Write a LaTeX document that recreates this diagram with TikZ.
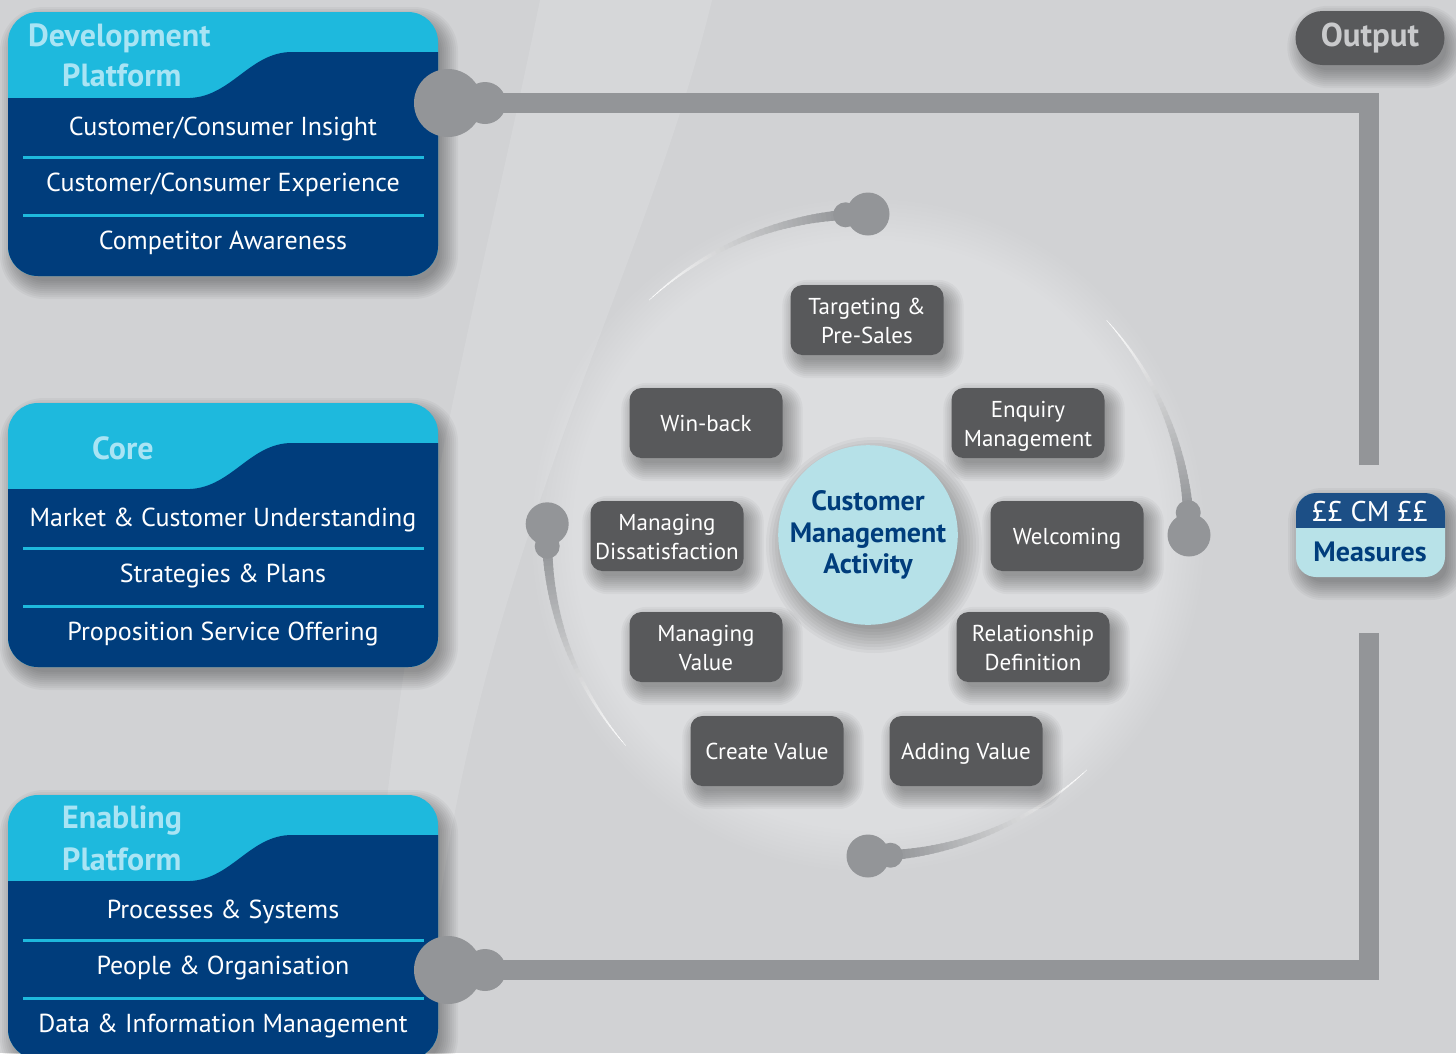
\documentclass[tikz,border=0pt]{standalone}
\usepackage{fontspec}
\setmainfont{PT Sans}
\usetikzlibrary{calc}
\pgfdeclarelayer{back}
\pgfdeclarelayer{shade}
\pgfsetlayers{back,shade,main}
\definecolor{bg}{HTML}{D1D2D4}
\definecolor{navy}{HTML}{003D7C}
\definecolor{cyanh}{HTML}{1EB9DD}
\definecolor{titlec}{HTML}{A9E4F4}
\definecolor{boxg}{HTML}{58595B}
\definecolor{knobg}{HTML}{939598}
\definecolor{circc}{HTML}{B6E1E8}
\definecolor{measdark}{HTML}{1C4F86}
\definecolor{measlight}{HTML}{B8E2E8}
\definecolor{outtxt}{HTML}{C9CACC}
\newcommand\mystrut{\rule[-5.7pt]{0pt}{29pt}}

% soft shadow: #1 top-left, #2 bottom-right, #3 corner radius
\newcommand\softshadow[3]{%
  \begin{pgfonlayer}{shade}
  \foreach \kk in {-4,-2,...,14}{
    \pgfmathsetmacro\rr{max(#3+\kk,0.5)}
    \fill[black, opacity=0.035, rounded corners=\rr pt] ($#1+(6-\kk,9-\kk)$) rectangle ($#2+(6+\kk,9+\kk)$);
  }
  \end{pgfonlayer}}

\newcommand\mypanel[6]{%
  \begin{scope}[shift={(0,#2)}]
    \softshadow{(8,0)}{(438,264)}{30}
    \path[fill=cyanh, rounded corners=30pt] (8,0) rectangle (438,264);
    \begin{scope}
      \clip[rounded corners=30pt] (8,0) rectangle (438,264);
      \fill[navy] (0,86) -- (190,86) .. controls (232,84) and (250,40) .. (292,40) -- (445,40) -- (445,270) -- (0,270) -- cycle;
    \end{scope}
    #3
    \draw[sepline] (23,145) -- (424,145);
    \draw[sepline] (23,203) -- (424,203);
    \node[itemtext] (#1-a) at (223,117) {\strut #4};
    \node[itemtext] (#1-b) at (223,173) {\strut #5};
    \node[itemtext] (#1-c) at (223,231) {\strut #6};
  \end{scope}}

\newcommand\ringarc[3]{% #1 thin start angle, #2 knob angle, #3 name
  \foreach \i in {0,...,44}{
    \pgfmathsetmacro\aa{#1+\i*((#2-4)-(#1))/45}
    \pgfmathsetmacro\bb{#1+(\i+1.4)*((#2-4)-(#1))/45}
    \pgfmathsetmacro\ww{0.4+9.6*\i/44}
    \pgfmathsetmacro\pp{100*\i/44}
    \draw[line width=\ww pt, draw=knobg!\pp!white] ($(C)+(\aa:321)$) arc[start angle=\aa, end angle=\bb, radius=321];
  }
  \node[knob, minimum size=25pt] (#3s) at ($(C)+(#2-4:321)$) {};
  \node[knob, minimum size=43pt] (#3b) at ($(C)+(#2:321)$) {};
}

\begin{document}
\begin{tikzpicture}[x=1pt,y=-1pt,
  itemtext/.style={text=white, font=\fontsize{26}{30}\selectfont, inner sep=0pt},
  titletext/.style={text=titlec, font=\bfseries\fontsize{32}{34}\selectfont, anchor=west, inner sep=0pt},
  sepline/.style={draw=cyanh, line width=3pt},
  stepbox/.style={rounded corners=12pt, fill=boxg, text=white, minimum width=153pt, minimum height=70pt,
     align=center, inner sep=1pt, font=\fontsize{23}{29}\selectfont},
  knob/.style={circle, fill=knobg, inner sep=0pt},
  bar/.style={draw=knobg, line width=20pt, line join=miter}]
\useasboundingbox (0,0) rectangle (1456,1053);
\begin{pgfonlayer}{back}
\fill[bg] (0,0) rectangle (1456,1053);
% background swoosh
\fill[white, opacity=0.13] (540,0) .. controls (480,300) and (390,600) .. (365,1053) -- (425,1053) .. controls (450,600) and (640,300) .. (712,0) -- cycle;
% ring background, soft edge
\coordinate (C) at (868,535);
\foreach \rad in {336,332,...,296}{\fill[white, opacity=0.032] (C) circle (\rad);}
% arcs
\ringarc{-133}{-90}{top}
\ringarc{-42}{0}{right}
\ringarc{47}{90}{bot}
\ringarc{139}{182}{left}
\end{pgfonlayer}

% panels
\mypanel{dev}{12}{%
  \node[titletext] (dev-t1) at (28,26) {Development};
  \node[titletext] (dev-t2) at (62,63) {Platform};}
  {Customer/Consumer Insight}{Customer/Consumer Experience}{Competitor Awareness}
\mypanel{core}{403}{%
  \node[titletext] (core-t) at (92,45) {Core};}
  {Market \& Customer Understanding}{Strategies \& Plans}{Proposition Service Offering}
\mypanel{ena}{795}{%
  \node[titletext] (ena-t1) at (62,26) {Enabling};
  \node[titletext] (ena-t2) at (62,64) {Platform};}
  {Processes \& Systems}{People \& Organisation}{Data \& Information Management}

% connectors
\node[knob, minimum size=68pt] (k1) at (448,103) {};
\node[knob, minimum size=42pt] (k1s) at (485,103) {};
\coordinate (c1) at (1369,103);
\coordinate (e1) at (1369,465);
\draw[bar] (k1s.center) -- (c1) -- (e1);
\node[knob, minimum size=68pt] (k2) at (448,970) {};
\node[knob, minimum size=42pt] (k2s) at (485,970) {};
\coordinate (c2) at (1369,970);
\coordinate (e2) at (1369,633);
\draw[bar] (k2s.center) -- (c2) -- (e2);

% output
\node[rounded corners=27pt, fill=boxg, minimum width=149pt, minimum height=54pt, text=outtxt,
  font=\bfseries\fontsize{33}{35}\selectfont] (out) at (1370,38) {Output};
\softshadow{(out.north west)}{(out.south east)}{27}

% measures
\softshadow{(1296,493)}{(1445,577)}{20}
\path[fill=measlight, rounded corners=20pt] (1296,493) rectangle (1445,577);
\begin{scope}
  \clip[rounded corners=20pt] (1296,493) rectangle (1445,577);
  \fill[measdark] (1290,490) rectangle (1450,528);
\end{scope}
\node[text=white, font=\fontsize{28.5}{30}\selectfont, inner sep=0pt] (meas1) at (1370,512) {££ CM ££};
\node[text=navy, font=\bfseries\fontsize{28}{30}\selectfont, inner sep=0pt] (meas2) at (1370,552) {Measures};

% steps
\node[stepbox] (s1) at (867,320) {\mystrut Targeting \&\\Pre-Sales\mystrut};
\node[stepbox] (s2) at (706,423) {\mystrut Win-back};
\node[stepbox] (s3) at (1028,423) {\mystrut Enquiry\\Management\mystrut};
\node[stepbox] (s4) at (667,536) {\mystrut Managing\\Dissatisfaction\mystrut};
\node[stepbox] (s5) at (1067,536) {\mystrut Welcoming};
\node[stepbox] (s6) at (706,647) {\mystrut Managing\\Value\mystrut};
\node[stepbox] (s7) at (1033,647) {\mystrut Relationship\\Definition\mystrut};
\node[stepbox] (s8) at (767,751) {\mystrut Create Value};
\node[stepbox] (s9) at (966,751) {\mystrut Adding Value};
\foreach \s in {s1,s2,s3,s4,s5,s6,s7,s8,s9}{\softshadow{(\s.north west)}{(\s.south east)}{12}}

% center
\node[circle, fill=circc, minimum size=176pt, inner sep=0pt, align=center, text=navy,
  font=\bfseries\fontsize{28}{31.5}\selectfont] (cma) at (C) {Customer\\Management\\Activity};
\begin{pgfonlayer}{shade}
\foreach \kk in {-4,-1,...,20}{\fill[black, opacity=0.035] ($(cma.center)+(6,10)$) circle ({88+\kk});}
\end{pgfonlayer}
\end{tikzpicture}
\end{document}
